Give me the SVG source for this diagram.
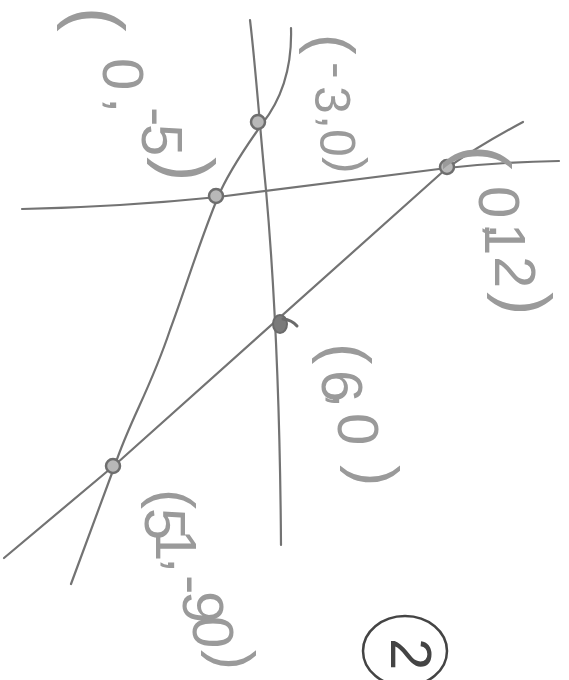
<svg xmlns="http://www.w3.org/2000/svg" width="569" height="680" viewBox="0 0 569 680">
<style>
.ln{fill:none;stroke:#737373;stroke-width:2.2;stroke-linecap:round;stroke-linejoin:round}
.nd{fill:#b8b8b8;stroke:#6e6e6e;stroke-width:2.5}
.lb{font-family:"Liberation Sans",Arial,sans-serif;font-size:58px;fill:#9a9a9a}
.p{font-size:70px}
</style>
<rect width="569" height="680" fill="#ffffff"/>
<g id="connectors">
<path class="ln" d="M22,209 Q120,207 218,197 L447,168 Q500,162 559,161"/>
<path class="ln" d="M250,20 C256,70 260,130 266,190 C274,280 280,400 281,545"/>
<path class="ln" d="M291,28 C292,60 285,95 262,124 C240,155 225,180 218,197 C200,240 185,290 170,330 C150,390 130,420 115,465 L71,584"/>
<path class="ln" d="M523,122 Q480,145 447,168 L116,464 L4,558"/>
</g>
<g id="node-0-m5">
<circle class="nd" cx="216" cy="196" r="7"/>
<text class="lb"><tspan class="p" style="font-size:74px" x="72" y="7" rotate="90">(</tspan><tspan x="103 110 139 142" y="58 97 107 124" rotate="90">0,-5</tspan><tspan class="p" style="font-size:74px" x="162" y="157" rotate="90">)</tspan></text>
</g>
<g id="node-m3-0">
<circle class="nd" cx="258" cy="122" r="7"/>
<text class="lb" style="font-size:50px"><tspan style="font-size:62px" x="312" y="34" rotate="90">(</tspan><tspan x="322 315 322 320" y="62 86 115 129" rotate="90">-3,0</tspan><tspan x="332" y="157" rotate="90">)</tspan></text>
</g>
<g id="node-0-12">
<circle class="nd" cx="447" cy="167" r="7"/>
<text class="lb"><tspan class="p" style="font-size:74px" x="458" y="145" rotate="90">(</tspan><tspan x="479 490 485 495" y="186 223 223 256" rotate="90">0,12</tspan><tspan class="p" x="502" y="292" rotate="90">)</tspan></text>
</g>
<g id="node-6-0">
<ellipse cx="280" cy="324" rx="7" ry="9" fill="#7a7a7a" stroke="#6a6a6a" stroke-width="2"/>
<path d="M283,319 Q292,320 297,326" fill="none" stroke="#6a6a6a" stroke-width="3" stroke-linecap="round"/>
<text class="lb"><tspan class="p" style="font-size:64px" x="325" y="343" rotate="90">(</tspan><tspan x="322 333 338" y="370 392 413" rotate="90">6,0</tspan><tspan class="p" style="font-size:64px" x="353" y="465" rotate="90">)</tspan></text>
</g>
<g id="node-51-m90">
<circle class="nd" cx="113" cy="466" r="7"/>
<text class="lb"><tspan class="p" style="font-size:60px" x="153" y="489" rotate="90">(</tspan><tspan x="145 156 168 174 183 193" y="508 529 557 575 591 616" rotate="90">51,-90</tspan><tspan class="p" style="font-size:60px" x="213" y="650" rotate="90">)</tspan></text>
</g>
<g id="circled-2">
<ellipse cx="405" cy="651" rx="42" ry="35" fill="none" stroke="#444444" stroke-width="2.5"/>
<text class="lb" style="fill:#444444" x="391" y="638" rotate="90">2</text>
</g>
</svg>
